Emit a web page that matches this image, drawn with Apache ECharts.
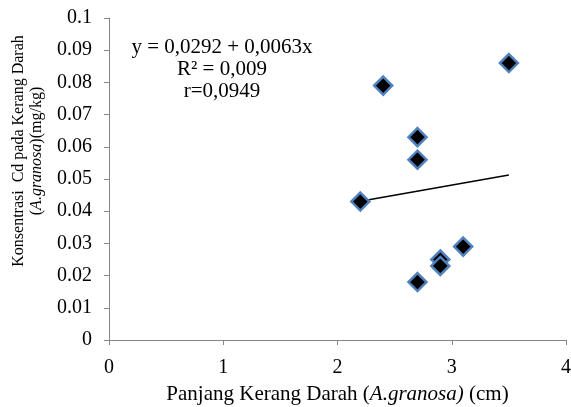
<!DOCTYPE html>
<html>
<head>
<meta charset="utf-8">
<script src="https://cdn.jsdelivr.net/npm/echarts@6/dist/echarts.min.js"></script>
<style>
  html, body { margin: 0; padding: 0; background: #fff; }
  #chart { width: 571px; height: 407px; }
</style>
</head>
<body>
<div id="chart"></div>
<script>
// Shell length (cm) against Cd concentration (mg/kg)
const lengthCm = [2.2, 2.4, 2.7, 2.7, 3.5, 3.1, 2.9, 2.9, 2.7];
const cdMgKg   = [0.043, 0.079, 0.063, 0.056, 0.086, 0.029, 0.025, 0.023, 0.018];

// Linear fit stated in the annotation
const intercept = 0.0292;
const slope = 0.0063;
const fitRange = [2.2, 3.5];
const equationLines = ['y = 0,0292 + 0,0063x', 'R² = 0,009', 'r=0,0949'];

const xTicks = { min: 0, max: 4, step: 1 };
const yTicks = { min: 0, max: 0.1, step: 0.01 };

const serif = '"Liberation Serif", "Times New Roman", serif';
const axisGray = '#868686';

const points = lengthCm.map((x, i) => [x, cdMgKg[i]]);
const fitLine = fitRange.map(x => [x, intercept + slope * x]);

const chart = echarts.init(document.getElementById('chart'));
chart.setOption({
  animation: false,
  backgroundColor: '#fff',
  grid: { left: 109, right: 5, top: 18, bottom: 67, containLabel: false, outerBoundsMode: 'none' },
  xAxis: {
    type: 'value',
    min: xTicks.min, max: xTicks.max, interval: xTicks.step,
    splitLine: { show: false },
    axisLine: { onZero: false, lineStyle: { color: axisGray, width: 1 } },
    axisTick: { show: true, length: 5, lineStyle: { color: axisGray } },
    axisLabel: { color: '#000', fontFamily: serif, fontSize: 20, margin: 18 },
    name: '{n|Panjang Kerang Darah (}{i|A.granosa)}{n| (cm)}',
    nameLocation: 'middle',
    nameGap: 44,
    nameTextStyle: {
      rich: {
        n: { fontFamily: serif, fontSize: 21, color: '#000' },
        i: { fontFamily: serif, fontSize: 21, color: '#000', fontStyle: 'italic' }
      }
    }
  },
  yAxis: {
    type: 'value',
    min: yTicks.min, max: yTicks.max, interval: yTicks.step,
    splitLine: { show: false },
    axisLine: { show: true, onZero: false, lineStyle: { color: axisGray, width: 1 } },
    axisTick: { show: true, length: 5, lineStyle: { color: axisGray } },
    axisLabel: {
      color: '#000', fontFamily: serif, fontSize: 20, margin: 17,
      formatter: v => String(+v.toFixed(2))
    }
  },
  graphic: [
    {
      type: 'text',
      x: 28, y: 151,
      rotation: Math.PI / 2,
      style: {
        text: '{n|Konsentrasi  Cd pada Kerang Darah}\n{n|(}{i|A.granosa}{n|)(mg/kg)}',
        align: 'center',
        verticalAlign: 'middle',
        rich: {
          n: { fontFamily: serif, fontSize: 16, fill: '#000', lineHeight: 18 },
          i: { fontFamily: serif, fontSize: 16, fill: '#000', fontStyle: 'italic', lineHeight: 18 }
        }
      }
    },
    ...equationLines.map((t, i) => ({
      type: 'text',
      x: 222, y: 47 + i * 22,
      style: {
        text: t,
        align: 'center',
        verticalAlign: 'middle',
        font: '21px ' + serif,
        fill: '#000'
      }
    }))
  ],
  series: [
    {
      type: 'line',
      data: fitLine,
      symbol: 'none',
      lineStyle: { color: '#000', width: 1.5 },
      z: 2
    },
    {
      type: 'scatter',
      data: points,
      symbol: 'diamond',
      symbolSize: 18,
      itemStyle: { color: '#000', opacity: 1, borderColor: '#4F81BD', borderWidth: 2.5 },
      z: 3
    }
  ]
});
</script>
</body>
</html>
